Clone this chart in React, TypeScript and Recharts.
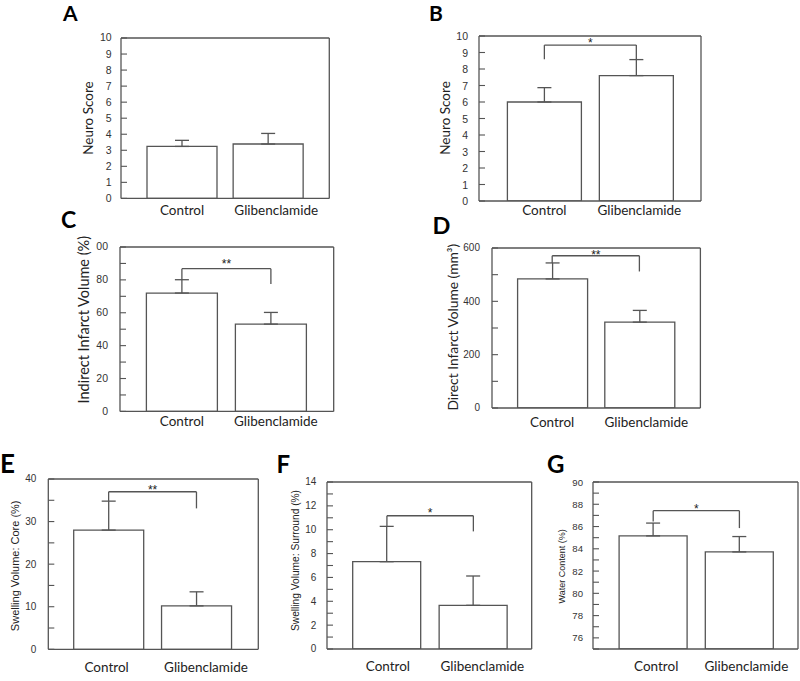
import React from 'react';
import { BarChart, Bar, XAxis, YAxis, ErrorBar, ReferenceLine } from 'recharts';

// ---------- data ----------
const categories = ['Control', 'Glibenclamide'];

const neuroScoreAMean = [3.24, 3.39];
const neuroScoreASem = [0.38, 0.66];

const neuroScoreBMean = [6.0, 7.6];
const neuroScoreBSem = [0.87, 0.97];
const neuroScoreBBracket = [9.45, 8.59, 8.57]; // bar height, left leg end, right leg end

const neuroScoreTicks = [0, 1, 2, 3, 4, 5, 6, 7, 8, 9, 10];
const neuroScoreTickLabels = ['0', '1', '2', '3', '4', '5', '6', '7', '8', '9', '10'];

const indirectMean = [72.0, 53.1];
const indirectSem = [8.1, 7.1];
const indirectBracket = [86.8, 80.1, 77.5];
const indirectTicks = [0, 10, 20, 30, 40, 50, 60, 70, 80, 90, 100];
const indirectTickLabels = ['0', '', '20', '', '40', '', '60', '', '80', '', '00'];

const directMean = [484, 322];
const directSem = [60, 44];
const directBracket = [571, 544, 512];
const directTicks = [0, 100, 200, 300, 400, 500, 600];
const directTickLabels = ['0', '', '200', '', '400', '', '600'];

const coreMean = [28.0, 10.2];
const coreSem = [6.8, 3.3];
const coreBracket = [37.0, 34.8, 33.1];
const coreTicks = [0, 5, 10, 15, 20, 25, 30, 35, 40];
const coreTickLabels = ['0', '', '10', '', '20', '', '30', '', '40'];

const surroundMean = [7.32, 3.66];
const surroundSem = [2.96, 2.46];
const surroundBracket = [11.17, 10.28, 9.86];
const surroundTicks = [0, 1, 2, 3, 4, 5, 6, 7, 8, 9, 10, 11, 12, 13, 14];
const surroundTickLabels = ['0', '', '2', '', '4', '', '6', '', '8', '', '10', '', '12', '', '14'];

const waterMean = [85.16, 83.72];
const waterSem = [1.15, 1.38];
const waterBracket = [87.42, 86.45, 85.86];
const waterTicks = [75, 76, 77, 78, 79, 80, 81, 82, 83, 84, 85, 86, 87, 88, 89, 90];
const waterTickLabels = ['', '76', '', '78', '', '80', '', '82', '', '84', '', '86', '', '88', '', '90'];

// ---------- styles ----------
const LINE = '#555';
const TEXT = '#222';
const SW = 1.3;
const SANS = '"Liberation Sans", Arial, sans-serif';
const CAL = 'Lato, "Open Sans", sans-serif';

type Layout = {
  frame: [number, number, number, number];
  pad: [number, number];
  barSize: number;
  title: [number, number, number, string];
  tickFont: number;
  tickGap: number;
  xDy: number;
  xDx: [number, number];
  starAbove?: number;
};

type PanelProps = {
  mean: number[];
  sem: number[];
  domain: [number, number];
  ticks: number[];
  tickLabels: string[];
  title: React.ReactNode;
  bracket?: number[];
  stars?: string;
  layout: Layout;
};

function Panel({ mean, sem, domain, ticks, tickLabels, title, bracket, stars, layout }: PanelProps) {
  const [l, t, r, b] = layout.frame;
  const YW = Math.min(70, l);
  const MT = 14;
  const MR = 6;
  const XH = 34;
  const left = l - YW;
  const top = t - MT;
  const width = YW + (r - l) + MR;
  const height = MT + (b - t) + XH;
  const data = categories.map((c, i) => ({ name: c, value: mean[i], err: [0, sem[i]] }));
  const [tx, ty, tsize, tfont] = layout.title;
  const cx = tx - left;
  const cy = ty - top;

  const yTick = (p: any) => {
    const idx = ticks.indexOf(p.payload.value);
    const lab = idx >= 0 ? tickLabels[idx] : '';
    const ax = p.x + layout.tickGap;
    return (
      <g>
        <line x1={ax} x2={ax + 6} y1={p.y} y2={p.y} stroke={LINE} strokeWidth={1.1} />
        {lab ? (
          <text x={p.x} y={p.y} textAnchor="end" dominantBaseline="central" fontFamily={SANS} fontSize={layout.tickFont} fill="#333">
            {lab}
          </text>
        ) : null}
      </g>
    );
  };

  const xTick = (p: any) => (
    <text
      x={p.x + layout.xDx[p.index]}
      y={p.y + layout.xDy}
      textAnchor="middle"
      dominantBaseline="central"
      fontFamily={CAL}
      fontSize={13.5}
      fill={TEXT}
    >
      {p.payload.value}
    </text>
  );

  const titleFn = () => (
    <text
      x={cx}
      y={cy}
      transform={`rotate(-90 ${cx} ${cy})`}
      textAnchor="middle"
      dominantBaseline="central"
      fontFamily={tfont}
      fontSize={tsize}
      fill={TEXT}
    >
      {title}
    </text>
  );

  const starFn = (p: any) => {
    const vb = p.viewBox || { x: 0, y: 0, width: 0 };
    const above = layout.starAbove ?? 5;
    return (
      <text x={vb.x + vb.width / 2} y={vb.y - above + 7} textAnchor="middle" fontFamily={SANS} fontSize={12} fill={TEXT}>
        {stars}
      </text>
    );
  };

  return (
    <div style={{ position: 'absolute', left, top, width, height }}>
      <BarChart width={width} height={height} data={data} margin={{ top: MT - 1, right: MR - 1, bottom: 0, left: 0 }}>
        <XAxis
          dataKey="name"
          type="category"
          height={XH}
          padding={{ left: layout.pad[0], right: layout.pad[1] }}
          tickLine={false}
          tickSize={0}
          tickMargin={0}
          interval={0}
          axisLine={{ stroke: LINE, strokeWidth: SW }}
          tick={xTick}
        />
        <XAxis xAxisId="top" orientation="top" dataKey="name" height={1} tick={false} tickLine={false} axisLine={{ stroke: LINE, strokeWidth: SW }} />
        <YAxis
          type="number"
          domain={domain}
          ticks={ticks}
          width={YW}
          interval={0}
          allowDataOverflow
          tickSize={0}
          tickMargin={layout.tickGap}
          tickLine={false}
          axisLine={{ stroke: LINE, strokeWidth: SW }}
          tick={yTick}
          label={titleFn}
        />
        <YAxis yAxisId="right" orientation="right" width={1} domain={domain} tick={false} tickLine={false} axisLine={{ stroke: LINE, strokeWidth: SW }} />
        <Bar dataKey="value" fill="#fff" stroke={LINE} strokeWidth={SW} barSize={layout.barSize} isAnimationActive={false}>
          <ErrorBar dataKey="err" width={7} stroke={LINE} strokeWidth={SW} direction="y" />
        </Bar>
        {bracket ? (
          <ReferenceLine
            segment={[{ x: categories[0], y: bracket[0] }, { x: categories[1], y: bracket[0] }]}
            stroke={LINE}
            strokeWidth={SW}
            ifOverflow="visible"
            label={starFn}
          />
        ) : null}
        {bracket ? (
          <ReferenceLine
            segment={[{ x: categories[0], y: bracket[0] }, { x: categories[0], y: bracket[1] }]}
            stroke={LINE}
            strokeWidth={SW}
            ifOverflow="visible"
          />
        ) : null}
        {bracket ? (
          <ReferenceLine
            segment={[{ x: categories[1], y: bracket[0] }, { x: categories[1], y: bracket[2] }]}
            stroke={LINE}
            strokeWidth={SW}
            ifOverflow="visible"
          />
        ) : null}
      </BarChart>
    </div>
  );
}

const layoutA: Layout = { frame: [121, 38.3, 329.3, 198.7], pad: [18, 18], barSize: 70, title: [88.3, 118.3, 13.5, CAL], tickFont: 10.5, tickGap: 9.3, xDy: 11.5, xDx: [0, 8] };
const layoutB: Layout = { frame: [479.3, 36, 701.3, 201], pad: [19.4, 18.7], barSize: 74, title: [445, 118, 13.5, CAL], tickFont: 10.5, tickGap: 11, xDy: 9, xDx: [0, 3], starAbove: 5 };
const layoutC: Layout = { frame: [120.3, 247.3, 334, 411.7], pad: [17.4, 18.3], barSize: 71, title: [84, 320, 14.5, CAL], tickFont: 10.5, tickGap: 12, xDy: 10, xDx: [0, 5], starAbove: 7.3 };
const layoutD: Layout = { frame: [492.3, 248.3, 700.7, 408.3], pad: [16.6, 17.4], barSize: 70, title: [452.5, 327.5, 13.8, CAL], tickFont: 10, tickGap: 12, xDy: 14, xDx: [0, 7], starAbove: 4 };
const layoutE: Layout = { frame: [48.3, 479, 258.3, 649.3], pad: [16.4, 17.9], barSize: 70, title: [15.5, 565.8, 11, SANS], tickFont: 10, tickGap: 12, xDy: 17.4, xDx: [-2, 9.5], starAbove: 5 };
const layoutF: Layout = { frame: [327.3, 482.3, 532, 649.3], pad: [16.7, 15.1], barSize: 68, title: [296, 560.8, 10.2, SANS], tickFont: 10, tickGap: 10.6, xDy: 17.4, xDx: [1, 9], starAbove: 5.3 };
const layoutG: Layout = { frame: [593.3, 482.3, 798.3, 649.3], pad: [17.1, 15.5], barSize: 68, title: [562.7, 566.7, 9, SANS], tickFont: 9.6, tickGap: 10, xDy: 17.4, xDx: [3, 7], starAbove: 4.3 };

const letters: [string, number, number, number][] = [
  ['A', 63, 21, 21],
  ['B', 429, 21, 21],
  ['C', 61, 228, 23],
  ['D', 432.5, 234, 23.5],
  ['E', 0, 472.5, 26],
  ['F', 276.5, 472.5, 24],
  ['G', 547, 473, 24],
];

export default function App() {
  return (
    <div style={{ position: 'absolute', left: 0, top: 0, width: 800, height: 681, background: '#fff', overflow: 'hidden' }}>
      <Panel mean={neuroScoreAMean} sem={neuroScoreASem} domain={[0, 10]} ticks={neuroScoreTicks} tickLabels={neuroScoreTickLabels} title="Neuro Score" layout={layoutA} />
      <Panel mean={neuroScoreBMean} sem={neuroScoreBSem} domain={[0, 10]} ticks={neuroScoreTicks} tickLabels={neuroScoreTickLabels} title="Neuro Score" bracket={neuroScoreBBracket} stars="*" layout={layoutB} />
      <Panel mean={indirectMean} sem={indirectSem} domain={[0, 100]} ticks={indirectTicks} tickLabels={indirectTickLabels} title="Indirect Infarct Volume (%)" bracket={indirectBracket} stars="**" layout={layoutC} />
      <Panel mean={directMean} sem={directSem} domain={[0, 600]} ticks={directTicks} tickLabels={directTickLabels} title="Direct Infarct Volume (mm³)" bracket={directBracket} stars="**" layout={layoutD} />
      <Panel mean={coreMean} sem={coreSem} domain={[0, 40]} ticks={coreTicks} tickLabels={coreTickLabels} title="Swelling Volume: Core (%)" bracket={coreBracket} stars="**" layout={layoutE} />
      <Panel mean={surroundMean} sem={surroundSem} domain={[0, 14]} ticks={surroundTicks} tickLabels={surroundTickLabels} title="Swelling Volume: Surround (%)" bracket={surroundBracket} stars="*" layout={layoutF} />
      <Panel mean={waterMean} sem={waterSem} domain={[75, 90]} ticks={waterTicks} tickLabels={waterTickLabels} title="Water Content (%)" bracket={waterBracket} stars="*" layout={layoutG} />
      <svg width={800} height={681} style={{ position: 'absolute', left: 0, top: 0, pointerEvents: 'none' }}>
        {letters.map(([ch, x, y, s]) => (
          <text key={ch} x={x} y={y} fontFamily={CAL} fontWeight="bold" fontSize={s} fill="#000">
            {ch}
          </text>
        ))}
      </svg>
    </div>
  );
}
